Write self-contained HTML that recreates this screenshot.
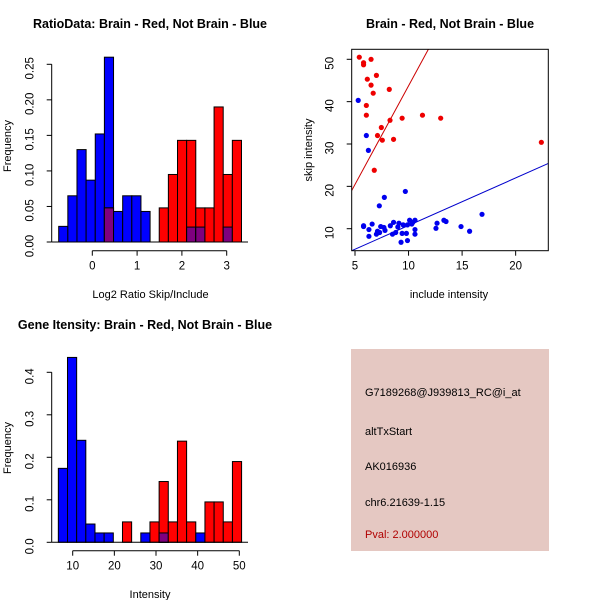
<!DOCTYPE html>
<html><head><meta charset="utf-8"><style>
body{margin:0;background:#fff}
svg{display:block;font-family:"Liberation Sans",sans-serif}
</style></head><body>
<svg id="c" width="600" height="600" viewBox="0 0 600 600">
<rect x="351" y="349" width="198" height="202" fill="#e5c8c2"/>
<g font-size="11" fill="#000">
<text x="365" y="396">G7189268@J939813_RC@i_at</text>
<text x="365" y="435">altTxStart</text>
<text x="365" y="470">AK016936</text>
<text x="365" y="506">chr6.21639-1.15</text>
<text x="365" y="538" fill="#b00000">Pval: 2.000000</text>
</g>
</svg>
<script>
// ---- Histogram 1 data (Log2 ratio) ----
const h1Start = -0.75, h1Width = 0.204;
const h1Blue = [0.022,0.065,0.13,0.087,0.152,0.26,0.043,0.065,0.065,0.043,0,0,0,0,0.021,0.021,0,0,0.021,0];
const h1Red  = [0,0,0,0,0,0.048,0,0,0,0,0,0.048,0.095,0.143,0.143,0.048,0.048,0.19,0.095,0.143];
const h1XTicks = [0,1,2,3];
const h1YTicks = ["0.00","0.05","0.10","0.15","0.20","0.25"];
// ---- Histogram 2 data (Intensity) ----
const h2Start = 6.55, h2Width = 2.2;
const h2Blue = [0.174,0.435,0.24,0.043,0.022,0.022,0,0,0,0.022,0,0.022,0,0,0,0.022,0,0,0,0];
const h2Red  = [0,0,0,0,0,0,0,0.048,0,0,0.048,0.143,0.048,0.238,0.048,0,0.095,0.095,0.048,0.19];
const h2XTicks = [10,20,30,40,50];
const h2YTicks = ["0.0","0.1","0.2","0.3","0.4"];
// ---- Scatter data ----
const redInclude = [5.4,5.8,5.8,6.5,6.15,7.0,6.5,6.7,8.2,6.06,6.06,8.27,9.4,11.3,13.0,7.46,7.1,7.55,8.6,22.4,6.8];
const redSkip    = [50.5,49.2,48.7,50,45.3,46.2,43.9,42,42.9,39.1,36.8,35.6,36.1,36.8,36.1,33.9,32,30.9,31.1,30.4,23.8];
const blueInclude = [5.3,6.06,6.25,9.7,7.74,7.27,16.86,13.3,13.5,14.9,12.66,12.56,15.7,5.8,5.8,6.3,6.3,6.6,7.0,7.1,7.3,7.4,7.7,7.8,8.3,8.6,8.5,8.8,9.1,9.3,9.4,9.5,9.8,9.9,10.1,10.3,10.4,10.6,10.6,10.6,9.0,9.9];
const blueSkip    = [40.3,32,28.5,18.8,17.4,15.4,13.4,12,11.7,10.5,11.3,10.1,9.4,10.7,10.5,9.8,8.2,11.1,8.7,9.4,9.1,10.5,10.3,9.6,10.7,11.5,8.7,9.1,11.3,6.8,8.9,10.9,8.9,7.2,12,11.1,11.5,12,9.8,8.7,10.4,10.9];
const redFit = [-2.86, 4.66];   // intercept, slope
const blueFit = [-0.46, 1.122];
const scXTicks = [5,10,15,20];
const scYTicks = [10,20,30,40,50];

const svg = document.getElementById('c');
const NS = 'http://www.w3.org/2000/svg';
function mk(tag, attrs, parent){const e=document.createElementNS(NS,tag);for(const k in attrs)e.setAttribute(k,attrs[k]);(parent||svg).appendChild(e);return e;}
function txt(s, attrs, parent){const e=mk('text',attrs,parent);e.textContent=s;return e;}
const TICKOFF = 18;

function histogram(cfg){
  const g = mk('g',{});
  
  
  const xs = v => cfg.x0px + (v - cfg.x0v) * cfg.xk;
  const ys = v => cfg.y0px - v * cfg.yk;
  for(let i=0;i<cfg.blue.length;i++){
    const l = xs(cfg.start + i*cfg.width), r = xs(cfg.start + (i+1)*cfg.width);
    const b = cfg.blue[i], rd = cfg.red[i];
    if(b>0){const e=mk('rect',{x:l,y:ys(b),width:r-l,height:ys(0)-ys(b),fill:'#0000ff',stroke:'#000','stroke-width':1},g);
      
      }
    if(rd>0){const e=mk('rect',{x:l,y:ys(rd),width:r-l,height:ys(0)-ys(rd),fill:'#ff0000',stroke:'#000','stroke-width':1},g);
      
      }
    const m = Math.min(b,rd);
    if(m>0){const e=mk('rect',{x:l,y:ys(m),width:r-l,height:ys(0)-ys(m),fill:'#7f007f',stroke:'#000','stroke-width':1},g);
      
      }
  }
  mk('line',{x1:cfg.yAxisX,x2:cfg.baseEnd,y1:ys(0),y2:ys(0),stroke:'#000'},g);
  const xa = mk('g',{},g);
  
  
  const xy = cfg.xAxisY;
  mk('line',{x1:xs(cfg.xt[0]),x2:xs(cfg.xt[cfg.xt.length-1]),y1:xy,y2:xy,stroke:'#000'},xa);
  cfg.xt.forEach(t=>{mk('line',{x1:xs(t),x2:xs(t),y1:xy,y2:xy+5,stroke:'#000'},xa);
    txt(String(t),{x:xs(t),y:xy+19,'font-size':11.5,'text-anchor':'middle'},xa);});
  const ya = mk('g',{},g);
  
  
  const ax = cfg.yAxisX;
  const yt = cfg.yt.map(Number);
  mk('line',{x1:ax,x2:ax,y1:ys(yt[0]),y2:ys(yt[yt.length-1]),stroke:'#000'},ya);
  cfg.yt.forEach(t=>{const v=Number(t);mk('line',{x1:ax-5,x2:ax,y1:ys(v),y2:ys(v),stroke:'#000'},ya);
    txt(t,{x:ax-TICKOFF,y:ys(v)+4,'font-size':11.5,'text-anchor':'middle',transform:`rotate(-90 ${ax-TICKOFF} ${ys(v)+4})`},ya);});
  const tt = txt(cfg.title,{x:cfg.titleX,y:cfg.titleY,'font-size':12.5,'font-weight':'bold','text-anchor':'middle'},g);
  
  
  const xl = txt(cfg.xlab,{x:(xs(cfg.xt[0])+xs(cfg.xt[cfg.xt.length-1]))/2+cfg.xlabDx,y:cfg.xlabY,'font-size':11,'text-anchor':'middle'},g);
  
  
  const yl = txt('Frequency',{x:11,y:cfg.ylabY,'font-size':11,'text-anchor':'middle',transform:`rotate(-90 11 ${cfg.ylabY})`},g);
  
  
}

histogram({name:'ratio-histogram',start:h1Start,width:h1Width,blue:h1Blue,red:h1Red,xt:h1XTicks,yt:h1YTicks,
  x0px:92.3,x0v:0,xk:44.8,y0px:242,yk:710.8,yAxisX:51.7,baseEnd:248,xAxisY:250.7,
  title:'RatioData: Brain - Red, Not Brain - Blue',titleX:150,titleY:28,xlab:'Log2 Ratio Skip/Include',xlabDx:-9,xlabY:298,ylabY:146});
histogram({name:'intensity-histogram',start:h2Start,width:h2Width,blue:h2Blue,red:h2Red,xt:h2XTicks,yt:h2YTicks,
  x0px:72.7,x0v:10,xk:4.165,y0px:542.3,yk:425,yAxisX:51.7,baseEnd:248,xAxisY:550.7,
  title:'Gene Itensity: Brain - Red, Not Brain - Blue',titleX:145,titleY:329,xlab:'Intensity',xlabDx:-6,xlabY:598,ylabY:448});

(function(){
  const g = mk('g',{});
  
  
  const L=351.7,R=548.3,T=49.3,B=250.7;
  const xs = v => 355 + (v-5)*10.71;
  const ys = v => 228.7 - (v-10)*4.235;
  const cl = mk('clipPath',{id:'sc'},g); mk('rect',{x:L,y:T,width:R-L,height:B-T},cl);
  function fit(f,col,name){
    const x1=(L-355)/10.71+5, x2=(R-355)/10.71+5;
    const e=mk('line',{x1:xs(x1),y1:ys(f[0]+f[1]*x1),x2:xs(x2),y2:ys(f[0]+f[1]*x2),stroke:col,'stroke-width':1,'clip-path':'url(#sc)'},g);
    
    
  }
  fit(redFit,'#cc0000','red-fit-line');
  fit(blueFit,'#0000cc','blue-fit-line');
  redInclude.forEach((x,i)=>{const e=mk('circle',{cx:xs(x),cy:ys(redSkip[i]),r:2.6,fill:'#ee0000'},g);
    
    });
  blueInclude.forEach((x,i)=>{const e=mk('circle',{cx:xs(x),cy:ys(blueSkip[i]),r:2.6,fill:'#0000ee'},g);
    
    });
  mk('rect',{x:L,y:T,width:R-L,height:B-T,fill:'none',stroke:'#000'},g);
  const xa=mk('g',{},g);
  
  
  scXTicks.forEach(t=>{mk('line',{x1:xs(t),x2:xs(t),y1:B,y2:B+5,stroke:'#000'},xa);
    txt(String(t),{x:xs(t),y:B+19,'font-size':11.5,'text-anchor':'middle'},xa);});
  const ya=mk('g',{},g);
  
  
  scYTicks.forEach(t=>{mk('line',{x1:L-5,x2:L,y1:ys(t),y2:ys(t),stroke:'#000'},ya);
    txt(String(t),{x:L-TICKOFF,y:ys(t)+4,'font-size':11.5,'text-anchor':'middle',transform:`rotate(-90 ${L-TICKOFF} ${ys(t)+4})`},ya);});
  const t=txt('Brain - Red, Not Brain - Blue',{x:450,y:28,'font-size':12.5,'font-weight':'bold','text-anchor':'middle'},g);
  
  
  const xl=txt('include intensity',{x:449,y:298,'font-size':11,'text-anchor':'middle'},g);
  
  
  const yl=txt('skip intensity',{x:312,y:150,'font-size':11,'text-anchor':'middle',transform:'rotate(-90 312 150)'},g);
  
  
})();
</script>
</body></html>
